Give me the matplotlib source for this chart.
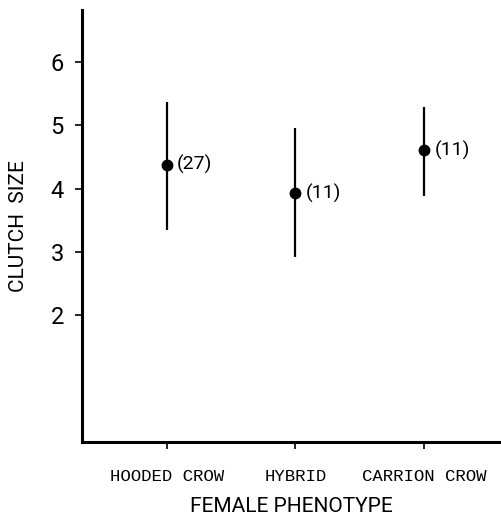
import matplotlib
matplotlib.use('Agg')
import matplotlib.pyplot as plt

# dados
fenotipos = ['HOODED CROW', 'HYBRID', 'CARRION CROW']
media = [4.38, 3.93, 4.61]
topo = [5.37, 4.96, 5.29]
base = [3.35, 2.92, 3.89]
n_amostra = ['(27)', '(11)', '(11)']
y_ticks = [2, 3, 4, 5, 6]

fonte = ['Roboto', 'DejaVu Sans']
fonte_mono = ['Liberation Mono', 'DejaVu Sans Mono']

fig = plt.figure(figsize=(5.02, 5.22), dpi=100)
ax = fig.add_axes([0.163, 0.153, 0.833, 0.828])

xs = [1, 2, 3]
for x, m, t, b, n in zip(xs, media, topo, base, n_amostra):
    ax.plot([x, x], [b, t], color='black', lw=1.6, solid_capstyle='butt')
    ax.plot(x, m, 'o', color='black', ms=7.5)
    ax.text(x + 0.08, m, n, fontsize=14, family=fonte,
            va='center', ha='left')

ax.set_xlim(0.34, 3.59)
ax.set_ylim(0, 6.82)
ax.spines['top'].set_visible(False)
ax.spines['right'].set_visible(False)
ax.spines['left'].set_linewidth(2.2)
ax.spines['bottom'].set_linewidth(2.2)

ax.set_yticks(y_ticks)
ax.set_yticklabels([str(v) for v in y_ticks], fontsize=17, family=fonte)
ax.set_xticks(xs)
ax.set_xticklabels(fenotipos, fontsize=12.5, family=fonte_mono)
ax.tick_params(axis='y', direction='out', length=5, width=1.2, pad=8)
ax.tick_params(axis='x', direction='out', length=5, width=1.2, pad=14)

ax.set_ylabel('CLUTCH  SIZE', fontsize=15, family=fonte, labelpad=16)
ax.set_xlabel('FEMALE PHENOTYPE', fontsize=15, family=fonte, labelpad=10)

fig.savefig('out.png', dpi=100)
